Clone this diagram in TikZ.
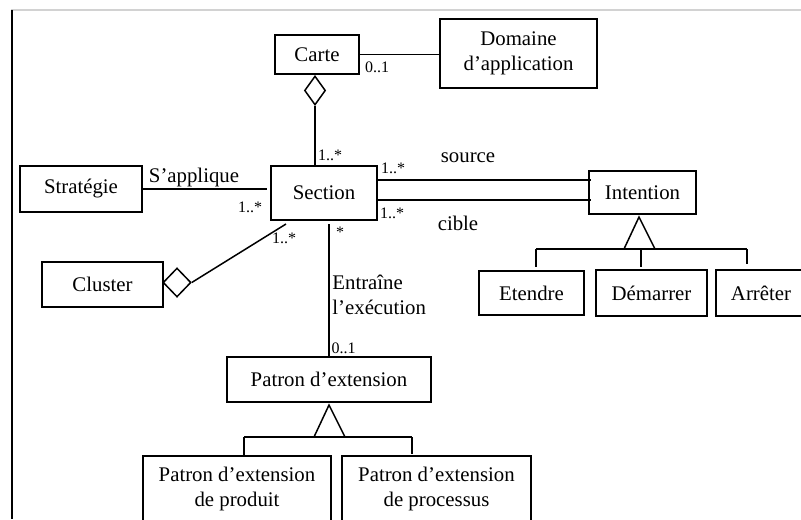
\documentclass[tikz,border=0pt]{standalone}
\usepackage{fontspec}
\setmainfont{Liberation Serif}
\usetikzlibrary{shapes.geometric}
\begin{document}
\begin{tikzpicture}[x=0.5pt,y=-0.5pt,
  box/.style={draw, line width=0.95pt, inner sep=0pt, align=center, font=\fontsize{10.4}{12.2}\selectfont},
  conn/.style={line width=0.75pt},
  mult/.style={inner sep=0pt, font=\fontsize{8}{9.5}\selectfont},
  lbl/.style={inner sep=0pt, font=\fontsize{10.4}{12.2}\selectfont},
  agg/.style={draw, diamond, line width=0.75pt, inner sep=0pt, fill=white},
  gen/.style={line width=0.75pt, line join=miter}]
\useasboundingbox (0,0) rectangle (801,519);
\clip (0,0) rectangle (801,519);
% frame
\draw[gray!35, line width=0.6pt] (11,10) -- (801,10);
\draw[line width=0.75pt] (12,10) -- (12,519);
% classes
\node[box, minimum width=42pt, minimum height=19.5pt] (carte) at (317,54.5) {Carte};
\node[box, minimum width=78.5pt, minimum height=34.5pt] (domaine) at (518.5,53.5) {Domaine\\d’application};
\node[box, minimum width=61pt, minimum height=23pt] (strategie) at (81,189) {Stratégie};
\node[box, minimum width=53pt, minimum height=27pt] (section) at (324,193) {Section};
\node[box, minimum width=60.5pt, minimum height=22.5pt] (cluster) at (102.5,284.5) {Cluster};
\node[box, minimum width=53.5pt, minimum height=21.5pt] (intention) at (642.5,192.5) {Intention};
\node[box, line width=0.8pt, minimum width=52.5pt, minimum height=22pt] (etendre) at (531.5,293) {Etendre};
\node[box, minimum width=55.5pt, minimum height=23pt] (demarrer) at (651.5,293) {Démarrer};
\node[box, line width=0.8pt, minimum width=45pt, minimum height=23pt] (arreter) at (761,293) {Arrêter};
\node[box, minimum width=102pt, minimum height=22.5pt] (patron) at (329,379.5) {Patron d’extension};
\node[box, minimum width=94pt, minimum height=33pt] (produit) at (237,489) {Patron d’extension\\de produit};
\node[box, line width=0.7pt, minimum width=94.5pt, minimum height=33pt] (processus) at (436.5,489) {Patron d’extension\\de processus};
% aggregation diamonds
\node[agg, minimum width=10.5pt, minimum height=14.5pt] (dcarte) at (315,90.5) {};
\node[agg, minimum width=14pt, minimum height=14.5pt] (dcluster) at (177,282.5) {};
% associations
\draw[conn] (carte.east) -- (carte.east -| domaine.west);
\draw[conn] (dcarte.south) -- (dcarte.south |- section.north);
\draw[conn] (strategie.east) -- ([xshift=-1.5pt]section.west |- strategie.east);
\coordinate (clend) at (286,224);
\draw[conn] (dcluster.east) -- (clend);
\draw[conn] (section.east |- 0,180) -- ([xshift=1.5pt]intention.west |- 0,180);
\draw[conn] (section.east |- 0,200) -- ([xshift=1.5pt]intention.west |- 0,200);
\coordinate (entop) at (329,224);
\draw[conn] (patron.north) -- (entop);
% generalisation Intention
\coordinate (gia) at (639,217);
\coordinate (gil) at (624,249);
\coordinate (gir) at (655,249);
\draw[gen] (gia) -- (gir) -- (gil) -- cycle;
\coordinate (gb1) at (536,249);
\coordinate (gb3) at (747,249);
\draw[conn] (gb1) -- (gb3);
\draw[conn] (gb1) -- (536,267);
\draw[conn] (641,249) -- (641,267);
\draw[conn] (gb3) -- (747,264);
% generalisation Patron
\coordinate (gpa) at (329,405);
\coordinate (gpl) at (314,437);
\coordinate (gpr) at (345,437);
\draw[gen] (gpa) -- (gpr) -- (gpl) -- cycle;
\coordinate (gq1) at (244,437);
\coordinate (gq2) at (412,437);
\draw[conn] (gq1) -- (gq2);
\draw[conn] (gq1) -- (244,457);
\draw[conn] (gq2) -- (412,454);
% labels
\node[mult] at (377,67) {0..1};
\node[mult] at (330,155) {1..*};
\node[lbl] at (194,177) {S’applique};
\node[mult] at (250,207) {1..*};
\node[mult] at (284,238) {1..*};
\node[mult] at (393,168) {1..*};
\node[lbl] at (468,158) {source};
\node[mult] at (392,213) {1..*};
\node[lbl] at (458,223) {cible};
\node[mult] at (340,232) {*};
\node[lbl, anchor=west, align=left] at (332,295) {Entraîne\\l’exécution};
\node[mult] at (343.5,348) {0..1};
\end{tikzpicture}
\end{document}
